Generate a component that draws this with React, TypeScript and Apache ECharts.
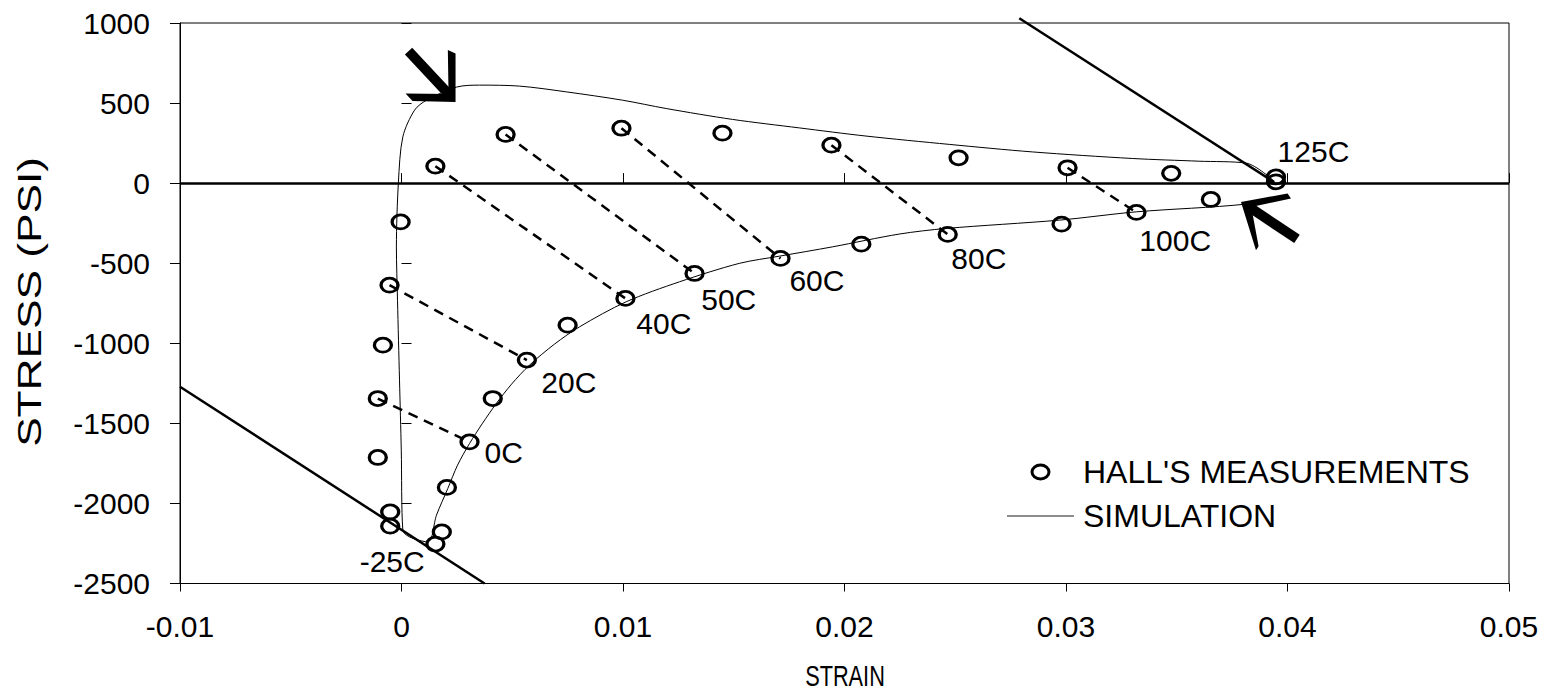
import React, { useEffect, useRef } from "react";
import * as echarts from "echarts";

const FONT = "'Liberation Sans', Arial, Helvetica, sans-serif";

// Hall's measurements (strain, stress psi)
const hallStrain = [0.00153, 0.0047, 0.00993, 0.01449, 0.01941, 0.02515, 0.03007, 0.03475, 0.03948, 0.03948, 0.03654, 0.03318, 0.0298, 0.02466, 0.02076, 0.01711, 0.01323, 0.01011, 0.0075, 0.00566, 0.00412, 0.00307, 0.00205, 0.00182, 0.00153, -0.00051, -0.00051, -0.00107, -0.00107, -0.00084, -0.00054, -0.00004];
const hallStress = [106, 304, 343, 312, 237, 158, 96, 61, 39, 8, -102, -183, -256, -320, -381, -470, -564, -720, -887, -1105, -1345, -1616, -1900, -2178, -2254, -2053, -2142, -1713, -1345, -1012, -637, -242];

// Simulation loop
const simStrain = [0.0394, 0.03814, 0.03601, 0.03299, 0.02848, 0.02473, 0.02097, 0.01796, 0.01494, 0.01195, 0.00998, 0.00744, 0.00533, 0.00352, 0.00249, 0.00113, 0.00059, 0.00006, -0.00014, -0.00023, -0.00018, -0.00009, -0.00001, 0.00006, 0.00119, 0.00158, 0.00209, 0.00253, 0.00307, 0.00366, 0.00428, 0.00497, 0.00578, 0.00691, 0.00804, 0.01014, 0.01255, 0.01525, 0.01706, 0.01945, 0.02247, 0.02458, 0.0297, 0.03319, 0.03812, 0.0394];
const simStress = [12, 125, 137, 154, 195, 242, 294, 345, 398, 466, 518, 570, 606, 612, 600, 518, 456, 289, 4, -398, -731, -1230, -1667, -2167, -2240, -2073, -1907, -1761, -1626, -1499, -1376, -1255, -1136, -1005, -897, -741, -616, -501, -456, -398, -318, -283, -231, -179, -131, -87];

// Isotherm dashed lines (upper point -> lower point)
const isoUpperStrain = [-0.00107, -0.00054, 0.00153, 0.0047, 0.00993, 0.01941, 0.03007];
const isoUpperStress = [-1345, -637, 106, 304, 343, 237, 96];
const isoLowerStrain = [0.00307, 0.00566, 0.01011, 0.01323, 0.01711, 0.02466, 0.03318];
const isoLowerStress = [-1616, -1105, -720, -564, -470, -320, -183];

// Temperature labels
const tempLabels = ["-25C", "0C", "20C", "40C", "50C", "60C", "80C", "100C", "125C"];
const tempLabelStrain = [-0.00189, 0.00375, 0.00631, 0.0106, 0.01353, 0.01751, 0.02482, 0.03331, 0.03955];
const tempLabelStress = [-2365, -1683, -1246, -876, -724, -606, -468, -356, 195];

// Thick reference lines
const hotLineStrain = [0.02789, 0.0394];
const hotLineStress = [1030, 6];
const coldLineStrain = [-0.01, 0.00375];
const coldLineStress = [-1271, -2500];

// Arrow tips (data coords)
const arrowTipStrain = [0.00244, 0.0379];
const arrowTipStress = [506, -117];

const ELLIPSE = "path://M0,7A8.5,7 0 1,1 17,7A8.5,7 0 1,1 0,7Z";
const LEGEND_LINE = "path://M0,0H67V1.6H0Z";

const zip = (xs: number[], ys: number[]) => xs.map((x, i) => [x, ys[i]]);

export default function App() {
  const ref = useRef<HTMLDivElement>(null);
  useEffect(() => {
    const chart = echarts.init(ref.current!, null, { renderer: "svg" });
    const axisText = { fontSize: 30, color: "#000", fontFamily: FONT };
    const isoSeries = isoUpperStrain.map((_, i) => ({
      type: "line",
      silent: true,
      symbol: "none",
      data: [
        [isoUpperStrain[i], isoUpperStress[i]],
        [isoLowerStrain[i], isoLowerStress[i]],
      ],
      lineStyle: { color: "#000", width: 2.5, type: [10, 7] },
      z: 3,
    }));
    chart.setOption({
      animation: false,
      backgroundColor: "#fff",
      textStyle: { fontFamily: FONT },
      grid: {
        left: 180,
        right: 43,
        top: 23,
        bottom: 109.5,
        show: true,
        borderColor: "#000",
        borderWidth: 1,
      },
      legend: {
        orient: "vertical",
        left: 1007,
        top: 456,
        padding: 0,
        itemWidth: 67,
        itemHeight: 14,
        itemGap: 12,
        textStyle: { fontSize: 32, color: "#000", fontFamily: FONT, padding: [0, 0, 0, 4] },
        data: [
          {
            name: "HALL'S MEASUREMENTS",
            icon: ELLIPSE,
            itemStyle: { color: "rgba(0,0,0,0)", borderColor: "#000", borderWidth: 3 },
          },
          {
            name: "SIMULATION",
            icon: LEGEND_LINE,
            itemStyle: { color: "#666", borderWidth: 0 },
          },
        ],
      },
      xAxis: [
        {
          type: "value",
          min: -0.01,
          max: 0.05,
          interval: 0.01,
          axisLine: { onZero: false, lineStyle: { color: "#000", width: 1 } },
          axisTick: { show: true, length: 8, lineStyle: { color: "#000" } },
          axisLabel: {
            ...axisText,
            margin: 28,
            formatter: (v: number) => String(parseFloat(v.toFixed(2))),
          },
          splitLine: { show: false },
        },
        {
          type: "value",
          min: -0.01,
          max: 0.05,
          interval: 0.01,
          position: "bottom",
          axisLine: { show: false },
          axisTick: { show: true, inside: true, length: 10, lineStyle: { color: "#000" } },
          axisLabel: { show: false },
          splitLine: { show: false },
        },
      ],
      yAxis: [
        {
          type: "value",
          min: -2500,
          max: 1000,
          interval: 500,
          axisLine: { onZero: false, lineStyle: { color: "#000", width: 1 } },
          axisTick: { show: true, length: 10, lineStyle: { color: "#000" } },
          axisLabel: { ...axisText, margin: 30, formatter: (v: number) => String(v) },
          splitLine: { show: false },
        },
        {
          type: "value",
          min: -2500,
          max: 1000,
          interval: 500,
          position: "left",
          axisLine: { show: false },
          axisTick: { show: true, inside: true, length: 10, lineStyle: { color: "#000" } },
          axisLabel: { show: false },
          splitLine: { show: false },
        },
      ],
      series: [
        {
          name: "SIMULATION",
          type: "line",
          silent: true,
          symbol: "none",
          smooth: 0.3,
          data: zip(simStrain, simStress),
          lineStyle: { color: "#000", width: 1 },
          itemStyle: { color: "#000" },
          z: 2,
          markLine: {
            silent: true,
            symbol: "none",
            label: { show: false },
            lineStyle: { color: "#000", width: 2.5, type: "solid" },
            data: [{ yAxis: 0 }],
          },
        },
        ...isoSeries,
        {
          type: "line",
          silent: true,
          symbol: "none",
          clip: false,
          data: zip(hotLineStrain, hotLineStress),
          lineStyle: { color: "#000", width: 2.5 },
          z: 4,
        },
        {
          type: "line",
          silent: true,
          symbol: "none",
          clip: false,
          data: zip(coldLineStrain, coldLineStress),
          lineStyle: { color: "#000", width: 2.5 },
          z: 4,
        },
        {
          name: "HALL'S MEASUREMENTS",
          type: "scatter",
          silent: true,
          symbol: ELLIPSE,
          symbolSize: [17, 14],
          data: zip(hallStrain, hallStress),
          itemStyle: { color: "rgba(0,0,0,0)", borderColor: "#000", borderWidth: 3, opacity: 1 },
          z: 5,
        },
        {
          type: "scatter",
          silent: true,
          symbol: "circle",
          symbolSize: 0.1,
          itemStyle: { color: "#000", opacity: 1 },
          data: tempLabels.map((t, i) => ({ name: t, value: [tempLabelStrain[i], tempLabelStress[i]] })),
          label: {
            show: true,
            position: "right",
            distance: 0,
            formatter: (p: any) => p.name,
            fontSize: 30,
            color: "#000",
            opacity: 1,
            textBorderWidth: 0,
            fontFamily: FONT,
          },
          z: 6,
        },
      ],
    });

    const t1 = chart.convertToPixel({ seriesIndex: 0 }, [arrowTipStrain[0], arrowTipStress[0]]) as number[];
    const t2 = chart.convertToPixel({ seriesIndex: 0 }, [arrowTipStrain[1], arrowTipStress[1]]) as number[];
    const head1 = [[0, 0], [-43, -1], [-50, -8.7], [-7, -8], [-7.7, -52], [0, -48.7]];
    const head2 = [[0, 0], [46.6, -8.4], [50, -3.4], [10.3, 5], [17.6, 44.3], [15, 48.3]];
    const mv = (t: number[], pts: number[][]) => pts.map(([dx, dy]) => [t[0] + dx, t[1] + dy]);
    chart.setOption({
      graphic: [
        {
          type: "text",
          silent: true,
          x: 845,
          y: 676,
          scaleX: 0.75,
          style: {
            text: "STRAIN",
            fontSize: 29,
            fontFamily: FONT,
            fill: "#000",
            align: "center",
            verticalAlign: "middle",
          },
        },
        {
          type: "text",
          silent: true,
          x: 29,
          y: 302,
          rotation: Math.PI / 2,
          scaleX: 1.3,
          style: {
            text: "STRESS (PSI)",
            fontSize: 34,
            fontFamily: FONT,
            fill: "#000",
            align: "center",
            verticalAlign: "middle",
          },
        },
        { type: "polygon", silent: true, z: 100, shape: { points: mv(t1, head1) }, style: { fill: "#000" } },
        {
          type: "line",
          silent: true,
          z: 100,
          shape: { x1: t1[0] - 47, y1: t1[1] - 51, x2: t1[0] - 5, y2: t1[1] - 6 },
          style: { stroke: "#000", lineWidth: 10 },
        },
        { type: "polygon", silent: true, z: 100, shape: { points: mv(t2, head2) }, style: { fill: "#000" } },
        {
          type: "line",
          silent: true,
          z: 100,
          shape: { x1: t2[0] + 8, y1: t2[1] + 5, x2: t2[0] + 56, y2: t2[1] + 37 },
          style: { stroke: "#000", lineWidth: 10 },
        },
      ],
    });
    return () => chart.dispose();
  }, []);
  return (
    <div
      ref={ref}
      style={{ position: "absolute", left: 0, top: 0, width: 1552, height: 693, background: "#fff" }}
    />
  );
}
